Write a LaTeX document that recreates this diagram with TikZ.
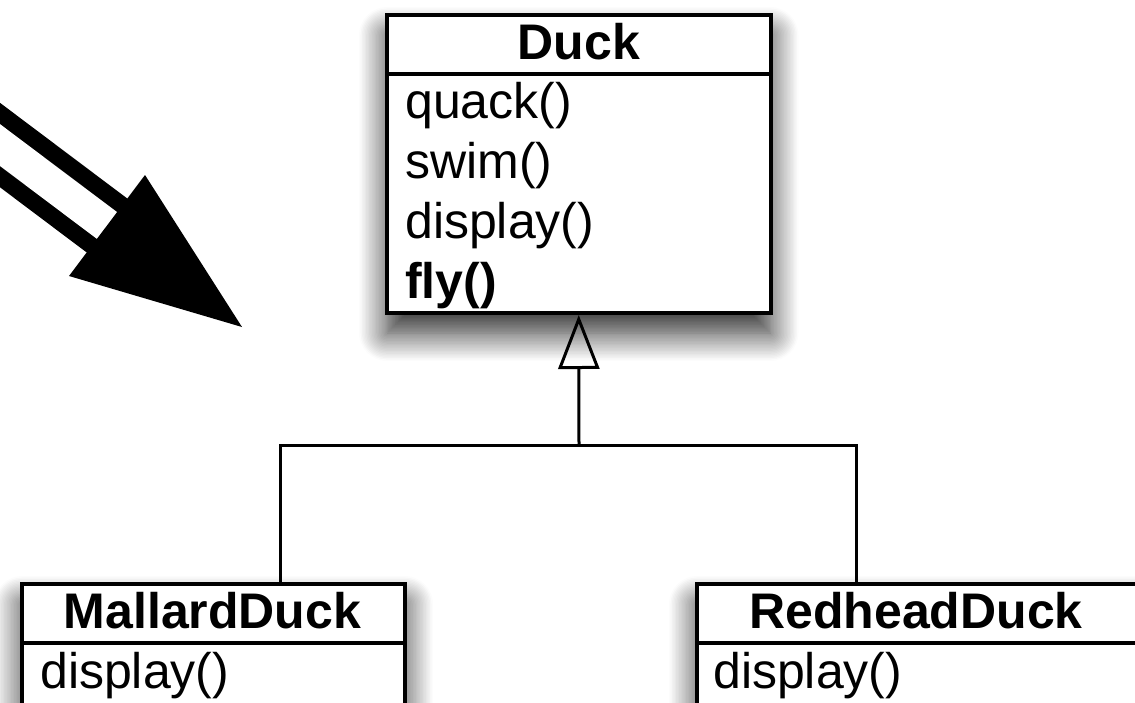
\documentclass[tikz,border=0pt]{standalone}
\usepackage{fontspec}
\setmainfont{Liberation Sans}
\usetikzlibrary{arrows.meta,shadows.blur}

\begin{document}
\begin{tikzpicture}[x=1pt,y=-1pt,
  classbox/.style={draw, line width=4pt, fill=white, inner sep=0pt,
    blur shadow={shadow xshift=0pt, shadow yshift=-20pt, shadow blur radius=28pt,
      shadow blur steps=20, shadow opacity=85}},
  rule/.style={line width=4pt},
  title/.style={inner sep=0pt, anchor=base, font=\fontsize{50}{60}\selectfont\bfseries},
  method/.style={inner sep=0pt, anchor=base west, font=\fontsize{50}{60}\selectfont},
  link/.style={line width=3pt}]

\useasboundingbox (0,0) rectangle (1135,702);
\clip (0,0) rectangle (1135,702);

\coordinate (tail) at (-40,115);
\coordinate (neck) at (115,231.5);
\draw[line width=17pt, double distance=33.5pt] (tail) -- (neck);
\fill (145,175) -- (242,327) -- (69,276) -- cycle;

\node[classbox, minimum width=383.5pt, minimum height=298pt] (duck) at (578.75,164) {};
\draw[rule] (387,73.5) -- (770.5,73.5);
\node[title] (duckname) at (578.75,59) {Duck};
\node[method] (quack) at (405,118) {quack()};
\node[method] (swim) at (405,178) {swim()};
\node[method] (display) at (405,238) {display()};
\node[method] (fly) at (405,298) {\bfseries fly()};

\node[classbox, minimum width=383pt, minimum height=240pt] (mallard) at (213.5,704) {};
\draw[rule] (22,643) -- (405,643);
\node[title] (mallardname) at (212.5,628) {MallardDuck};
\node[method] (mallarddisplay) at (40,688) {display()};

\node[classbox, minimum width=443pt, minimum height=240pt] (redhead) at (918.5,704) {};
\draw[rule] (697,643) -- (1140,643);
\node[title] (redheadname) at (916,628) {RedheadDuck};
\node[method] (redheaddisplay) at (713,688) {display()};

\coordinate (hub) at (579,445.5);
\coordinate (mtop) at (280,584);
\coordinate (rtop) at (856,584);
\draw[link] (mtop) |- (hub) -| (rtop);
\draw[link, -{Triangle[open, length=54pt, width=41pt]}] (hub) -- (duck.south);

\end{tikzpicture}
\end{document}
